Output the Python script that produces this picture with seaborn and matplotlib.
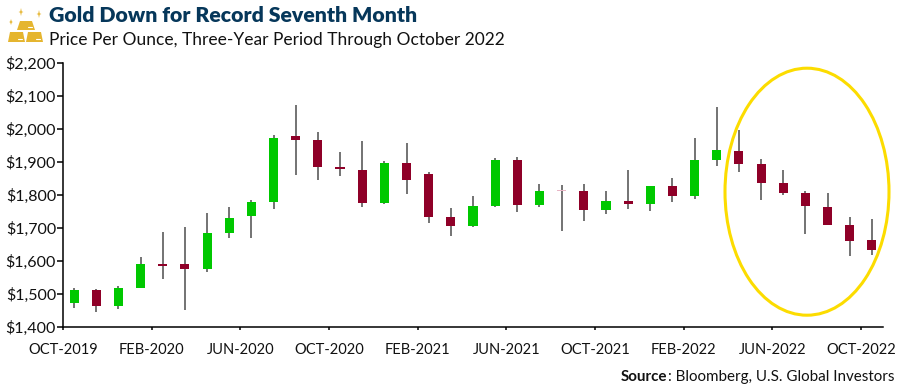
import matplotlib
matplotlib.use("Agg")
import matplotlib.pyplot as plt
from matplotlib.patches import Ellipse, Polygon
import pandas as pd
import seaborn as sns

months = ["Oct-19", "Nov-19", "Dec-19", "Jan-20", "Feb-20", "Mar-20", "Apr-20", "May-20", "Jun-20", "Jul-20",
          "Aug-20", "Sep-20", "Oct-20", "Nov-20", "Dec-20", "Jan-21", "Feb-21", "Mar-21", "Apr-21", "May-21",
          "Jun-21", "Jul-21", "Aug-21", "Sep-21", "Oct-21", "Nov-21", "Dec-21", "Jan-22", "Feb-22", "Mar-22",
          "Apr-22", "May-22", "Jun-22", "Jul-22", "Aug-22", "Sep-22", "Oct-22"]
open_price = [1473, 1512, 1464, 1516, 1590, 1591, 1576, 1684, 1736, 1779,
              1977, 1965, 1883, 1875, 1775, 1895, 1863, 1731, 1706, 1767,
              1904, 1768, 1815, 1810, 1755, 1781, 1773, 1826, 1795, 1906,
              1933, 1894, 1834, 1804, 1763, 1709, 1662]
close_price = [1511, 1464, 1516, 1589, 1585, 1576, 1684, 1728, 1779, 1972,
               1965, 1883, 1877, 1775, 1895, 1845, 1731, 1706, 1767, 1904,
               1768, 1811, 1811, 1755, 1781, 1773, 1826, 1795, 1905, 1934,
               1894, 1834, 1805, 1765, 1709, 1659, 1632]
high_price = [1518, 1514, 1524, 1610, 1688, 1702, 1745, 1764, 1784, 1981,
              2072, 1989, 1930, 1963, 1903, 1956, 1870, 1759, 1795, 1910,
              1913, 1831, 1829, 1831, 1812, 1874, 1827, 1851, 1971, 2067,
              1995, 1907, 1876, 1811, 1806, 1732, 1726]
low_price = [1458, 1445, 1454, 1516, 1546, 1451, 1567, 1670, 1670, 1756,
             1861, 1846, 1857, 1763, 1773, 1803, 1715, 1675, 1703, 1764,
             1748, 1764, 1689, 1719, 1743, 1757, 1752, 1779, 1786, 1887,
             1870, 1785, 1800, 1680, 1709, 1614, 1616]
direction = ["up", "down", "up", "up", "down", "down", "up", "up", "up", "up",
             "down", "down", "down", "down", "up", "down", "down", "down", "up", "up",
             "down", "up", "flat", "down", "up", "down", "up", "down", "up", "up",
             "down", "down", "down", "down", "down", "down", "down"]

y_ticks = [1400, 1500, 1600, 1700, 1800, 1900, 2000, 2100, 2200]
x_tick_labels = ["OCT-2019", "FEB-2020", "JUN-2020", "OCT-2020", "FEB-2021",
                 "JUN-2021", "OCT-2021", "FEB-2022", "JUN-2022", "OCT-2022"]

title = "Gold Down for Record Seventh Month"
subtitle = "Price Per Ounce, Three-Year Period Through October 2022"
source_bold = "Source"
source_rest = ": Bloomberg, U.S. Global Investors"

sns.set_theme(style="white")
plt.rcParams["font.family"] = "Lato"

GOLD = "#e5b52f"
body_colors = {"up": "#00c800", "down": "#8f0028", "flat": "#e8b5c5"}

df = pd.DataFrame({"month": months, "open": open_price, "close": close_price,
                   "high": high_price, "low": low_price, "direction": direction})
df["bottom"] = df[["open", "close"]].min(axis=1)
df["height"] = (df["open"] - df["close"]).abs()

fig = plt.figure(figsize=(9, 3.88), dpi=100)
ax = fig.add_axes([63 / 900, (388 - 326.7) / 388, 820 / 900, 264 / 388])

# wicks first so the bodies sit on top
ax.vlines(range(len(df)), df["low"], df["high"], color="#4d4d4d", linewidth=1.1, zorder=0.5)

# hue would split the bottom array, so one barplot per colour
for name, color in body_colors.items():
    part = df[df["direction"] == name]
    sns.barplot(data=part, x="month", y="height", bottom=part["bottom"].values, order=months,
                color=color, saturation=1, width=0.41, linewidth=0, ax=ax, zorder=1)

ax.set_xlim(-0.5, 36.5)
ax.set_ylim(1400, 2200)
ax.set_xlabel("")
ax.set_ylabel("")
ax.set_yticks(y_ticks)
ax.set_yticklabels([f"${v:,}" for v in y_ticks], fontsize=11.5, color="#111111")
ax.set_xticks([i * 4 - 0.5 for i in range(len(x_tick_labels))])
ax.set_xticklabels(x_tick_labels, fontsize=10.5, color="#111111")
ax.tick_params(axis="y", length=4, width=1.1, color="black", left=True, pad=1)
ax.tick_params(axis="x", length=2.5, width=1.1, color="black", bottom=True, pad=9)
sns.despine(ax=ax)
for side in ["left", "bottom"]:
    ax.spines[side].set_color("black")
    ax.spines[side].set_linewidth(1.1)

# overlay in pixel coordinates for the header, icon, circle and source
over = fig.add_axes([0, 0, 1, 1])
over.set_xlim(0, 900)
over.set_ylim(388, 0)
over.axis("off")
over.patch.set_alpha(0)

over.add_patch(Ellipse((807, 191.7), 164, 247, fill=False, edgecolor="#fcdc00", linewidth=2.2))

for bar in [[(20, 21), (32, 21), (35, 30), (17, 30)],
            [(10, 32), (23, 32), (25, 42), (8, 42)],
            [(28, 32), (41, 32), (43, 42), (26, 42)]]:
    over.add_patch(Polygon(bar, closed=True, color=GOLD, linewidth=0))
    over.plot([bar[2][0] - 7, bar[2][0] - 3], [bar[2][1] - 3, bar[2][1] - 3], color="white", linewidth=0.8)
for sx, sy, sr in [(21, 12, 4), (39, 14, 4), (11, 22, 3)]:
    star = [(sx, sy - sr), (sx + 0.7, sy - 0.7), (sx + sr * 0.6, sy), (sx + 0.7, sy + 0.7),
            (sx, sy + sr), (sx - 0.7, sy + 0.7), (sx - sr * 0.6, sy), (sx - 0.7, sy - 0.7)]
    over.add_patch(Polygon(star, closed=True, color=GOLD, linewidth=0))
over.set_xlim(0, 900)
over.set_ylim(388, 0)

over.text(49, 22, title, fontsize=15.3, fontweight="heavy", color="#06375a", va="baseline")
over.text(49, 45, subtitle, fontsize=12.5, color="#111111", va="baseline")

rest = over.text(894, 381, source_rest, fontsize=10.9, color="#111111", ha="right", va="baseline")
fig.canvas.draw()
left_edge = over.transData.inverted().transform((rest.get_window_extent().x0, 0))[0]
over.text(left_edge, 381, source_bold, fontsize=10.9, fontweight="bold", color="#111111", ha="right", va="baseline")

fig.savefig("out.png", dpi=100)
